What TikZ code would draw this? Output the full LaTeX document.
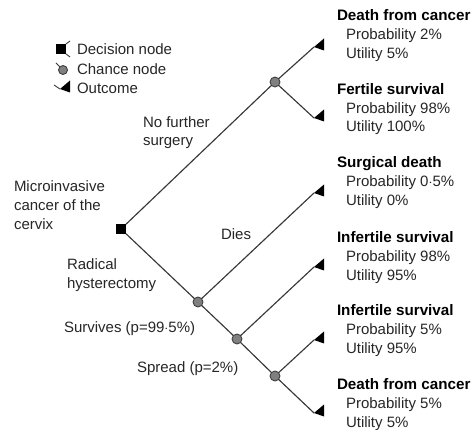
\documentclass[tikz,border=0pt]{standalone}
\usepackage{fontspec}
\setmainfont{Liberation Sans}
\begin{document}
\begin{tikzpicture}[x=1pt,y=-1pt,
  every node/.style={inner sep=0pt,outer sep=0pt},
  txt/.style={anchor=base west,font=\fontsize{15}{17}\selectfont,text=black!85},
  btxt/.style={txt,font=\fontsize{15.2}{17}\selectfont\bfseries,text=black},
  branch/.style={draw=black!78,line width=1.15pt},
  decision/.style={rectangle,fill=black,minimum size=10pt},
  chance/.style={circle,draw=black!75,line width=0.9pt,fill=black!50,minimum size=10pt},
]
\useasboundingbox (0,0) rectangle (474,430);
% outcome triangle macro
\newcommand{\outtri}[1]{\fill[black] (#1) -- ++(10,-8.5) -- ++(0,12) -- cycle;}

% tree nodes
\node[decision] (d) at (121,229) {};
\node[chance] (c1) at (275,82) {};
\node[chance] (c2) at (198,302) {};
\node[chance] (c3) at (237,339) {};
\node[chance] (c4) at (275,376) {};
\coordinate (o1) at (314,47);
\coordinate (o2) at (314,118);
\coordinate (o3) at (314,193);
\coordinate (o4) at (314,267);
\coordinate (o5) at (314,340);
\coordinate (o6) at (314,413);

\draw[branch] (d) -- (c1);
\draw[branch] (d) -- (c2);
\draw[branch] (c2) -- (c3);
\draw[branch] (c3) -- (c4);
\draw[branch] (c1) -- (o1);
\draw[branch] (c1) -- (o2);
\draw[branch] (c2) -- (o3);
\draw[branch] (c3) -- (o4);
\draw[branch] (c4) -- (o5);
\draw[branch] (c4) -- (o6);
\foreach \o in {o1,o2,o3,o4,o5,o6} {\outtri{\o}}

% legend
\node[decision] (ld) at (61,49) {};
\coordinate (ld1) at (70,41);
\coordinate (ld2) at (70,57);
\draw[branch,line width=0.9pt] (ld.north east) -- (ld1);
\draw[branch,line width=0.9pt] (ld.south east) -- (ld2);
\node[chance,minimum size=9pt] (lc) at (63,70) {};
\coordinate (lc0) at (56,63);
\draw[branch,line width=0.9pt] (lc0) -- (lc);
\coordinate (lo) at (60,89);
\coordinate (lo0) at (54,85);
\draw[branch,line width=0.9pt] (lo0) -- (lo);
\outtri{lo}
\node[txt] (tl1) at (77,55) {Decision node};
\node[txt] (tl2) at (77,75) {Chance node};
\node[txt] (tl3) at (77,94) {Outcome};

% branch labels
\node[txt] (nf1) at (143,128) {No further};
\node[txt] (nf2) at (143,146) {surgery};
\node[txt] (m1) at (14,192) {Microinvasive};
\node[txt] (m2) at (14,211) {cancer of the};
\node[txt] (m3) at (14,230) {cervix};
\node[txt] (dies) at (221,240) {Dies};
\node[txt] (r1) at (67,270) {Radical};
\node[txt] (r2) at (67,289) {hysterectomy};
\node[txt] (sv) at (64,333) {Survives (p=99$\cdot$5\%)};
\node[txt] (sp) at (137,372) {Spread (p=2\%)};

% outcome labels
\node[btxt] (a1) at (337,21) {Death from cancer};
\node[txt] (a2) at (346,40) {Probability 2\%};
\node[txt] (a3) at (346,58.5) {Utility 5\%};
\node[btxt] (b1) at (337,95) {Fertile survival};
\node[txt] (b2) at (346,113.5) {Probability 98\%};
\node[txt] (b3) at (346,132) {Utility 100\%};
\node[btxt] (e1) at (337,168) {Surgical death};
\node[txt] (e2) at (346,187) {Probability 0$\cdot$5\%};
\node[txt] (e3) at (346,206) {Utility 0\%};
\node[btxt] (f1) at (337,243) {Infertile survival};
\node[txt] (f2) at (346,262) {Probability 98\%};
\node[txt] (f3) at (346,280.5) {Utility 95\%};
\node[btxt] (g1) at (337,316) {Infertile survival};
\node[txt] (g2) at (346,335) {Probability 5\%};
\node[txt] (g3) at (346,354) {Utility 95\%};
\node[btxt] (h1) at (337,389) {Death from cancer};
\node[txt] (h2) at (346,408) {Probability 5\%};
\node[txt] (h3) at (346,427) {Utility 5\%};
\end{tikzpicture}
\end{document}
